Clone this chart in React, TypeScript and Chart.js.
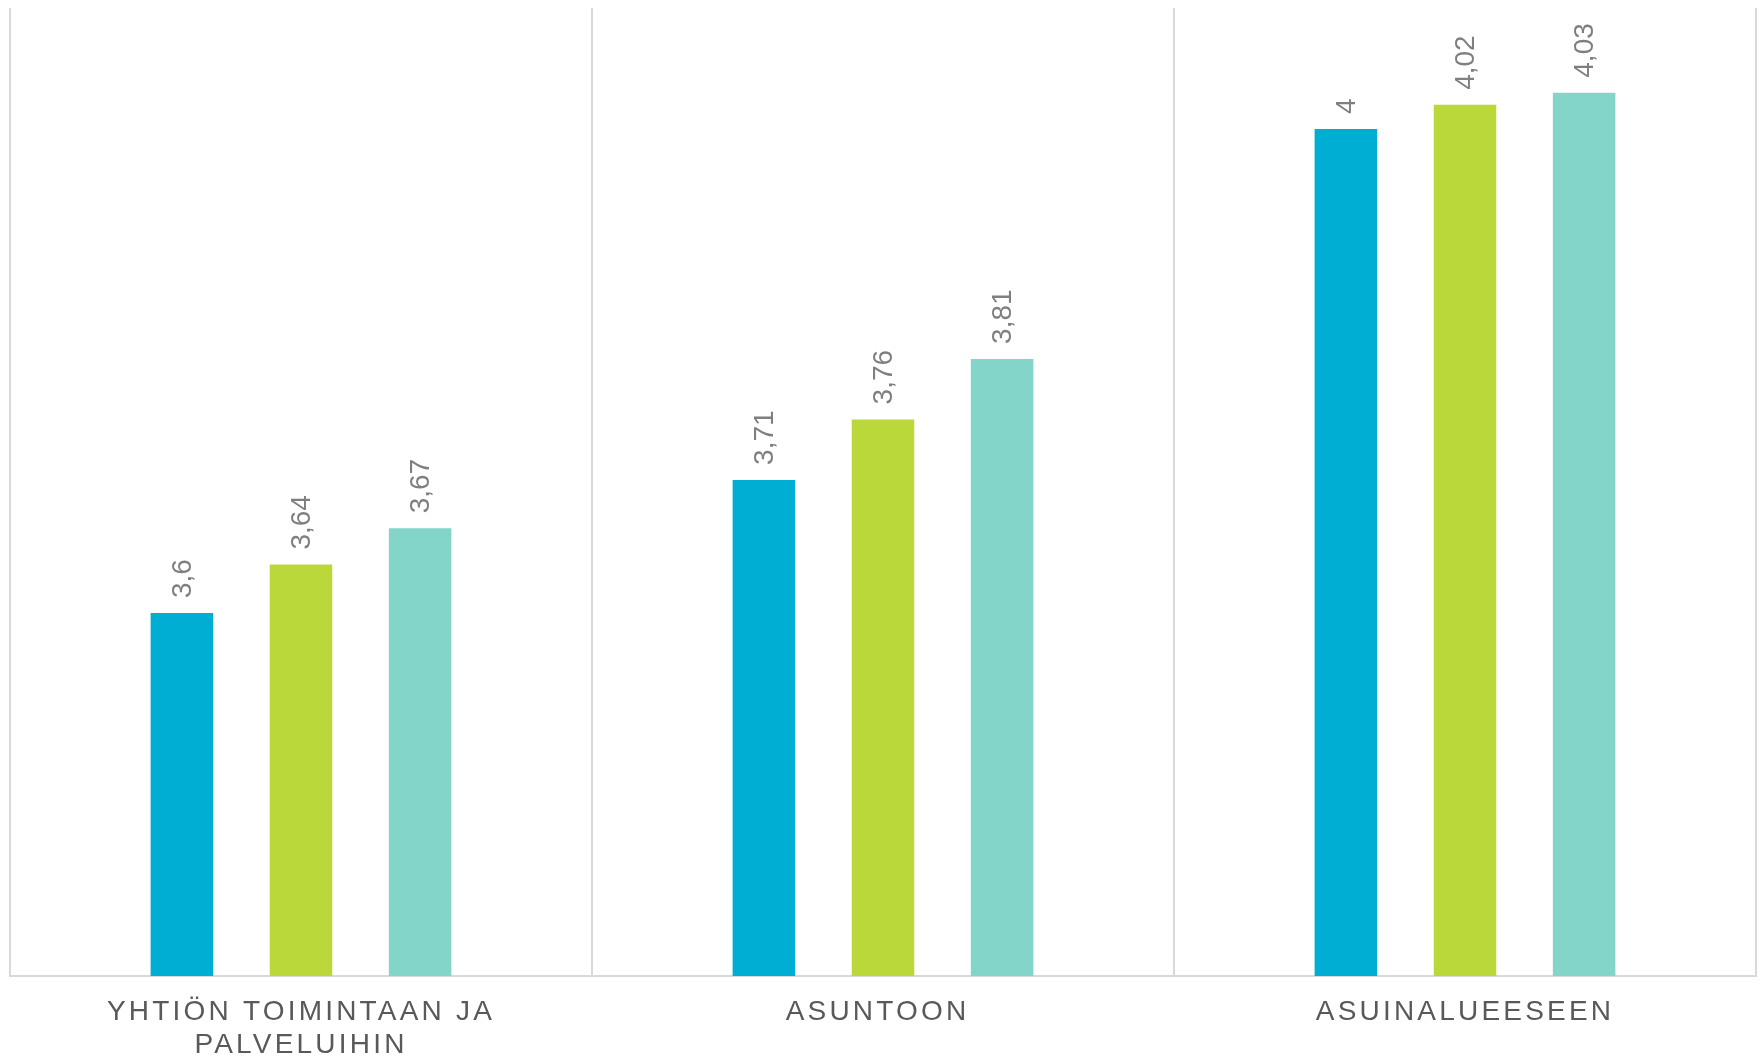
import React, { useEffect, useRef } from "react";
import { Chart, registerables } from "chart.js";

Chart.register(...registerables);

const categories: string[][] = [
  ["YHTIÖN TOIMINTAAN JA", "PALVELUIHIN"],
  ["ASUNTOON "],
  ["ASUINALUEESEEN"],
];
const series1 = [3.6, 3.71, 4.0];
const series2 = [3.64, 3.76, 4.02];
const series3 = [3.67, 3.81, 4.03];
const seriesNames = ["Sarja 1", "Sarja 2", "Sarja 3"];
const colors = ["#00AED3", "#BAD83A", "#84D5C9"];
const yMin = 3.3;
const yMax = 4.1;

const FONT = "'Liberation Sans', Arial, Helvetica, sans-serif";

const labelPlugin = {
  id: "customLabels",
  beforeDraw(chart: any) {
    chart.ctx.letterSpacing = "3.2px";
  },
  afterDatasetsDraw(chart: any) {
    const ctx = chart.ctx;
    ctx.save();
    ctx.letterSpacing = "0px";
    ctx.font = `28px ${FONT}`;
    ctx.fillStyle = "#7F7F7F";
    ctx.textAlign = "left";
    ctx.textBaseline = "middle";
    chart.data.datasets.forEach((ds: any, di: number) => {
      const meta = chart.getDatasetMeta(di);
      meta.data.forEach((el: any, i: number) => {
        const v = ds.data[i];
        const txt = String(v).replace(".", ",");
        ctx.save();
        ctx.translate(el.x + 1, el.y - 15);
        ctx.rotate(-Math.PI / 2);
        ctx.fillText(txt, 0, 0);
        ctx.restore();
      });
    });
    ctx.restore();
  },
};

export default function App() {
  const ref = useRef<HTMLCanvasElement | null>(null);
  useEffect(() => {
    if (!ref.current) return;
    const chart = new Chart(ref.current, {
      type: "bar",
      data: {
        labels: categories,
        datasets: [series1, series2, series3].map((d, i) => ({
          label: seriesNames[i],
          data: d,
          backgroundColor: colors[i],
          borderWidth: 0,
          categoryPercentage: 0.614,
          barPercentage: 0.525,
        })),
      },
      options: {
        responsive: false,
        animation: false,
        devicePixelRatio: 1,
        layout: { padding: { left: 10, right: 7, top: 8, bottom: 0 } },
        plugins: {
          legend: { display: false },
          tooltip: { enabled: false },
        },
        scales: {
          x: {
            offset: true,
            grid: {
              offset: true,
              color: "#D9D9D9",
              lineWidth: 2,
              drawTicks: false,
            },
            border: { display: true, color: "#D9D9D9", width: 2 },
            ticks: {
              color: "#595959",
              font: { family: FONT, size: 28, lineHeight: 33 / 28 },
              padding: 20,
              maxRotation: 0,
              autoSkip: false,
            },
            afterFit(scale: any) {
              scale.height = 80;
            },
          },
          y: {
            display: false,
            min: yMin,
            max: yMax,
          },
        },
      },
      plugins: [labelPlugin],
    });
    return () => chart.destroy();
  }, []);
  return (
    <div style={{ position: "absolute", left: 0, top: 0, width: 1763, height: 1056, background: "#fff" }}>
      <canvas ref={ref} width={1763} height={1056} style={{ display: "block" }} />
    </div>
  );
}
